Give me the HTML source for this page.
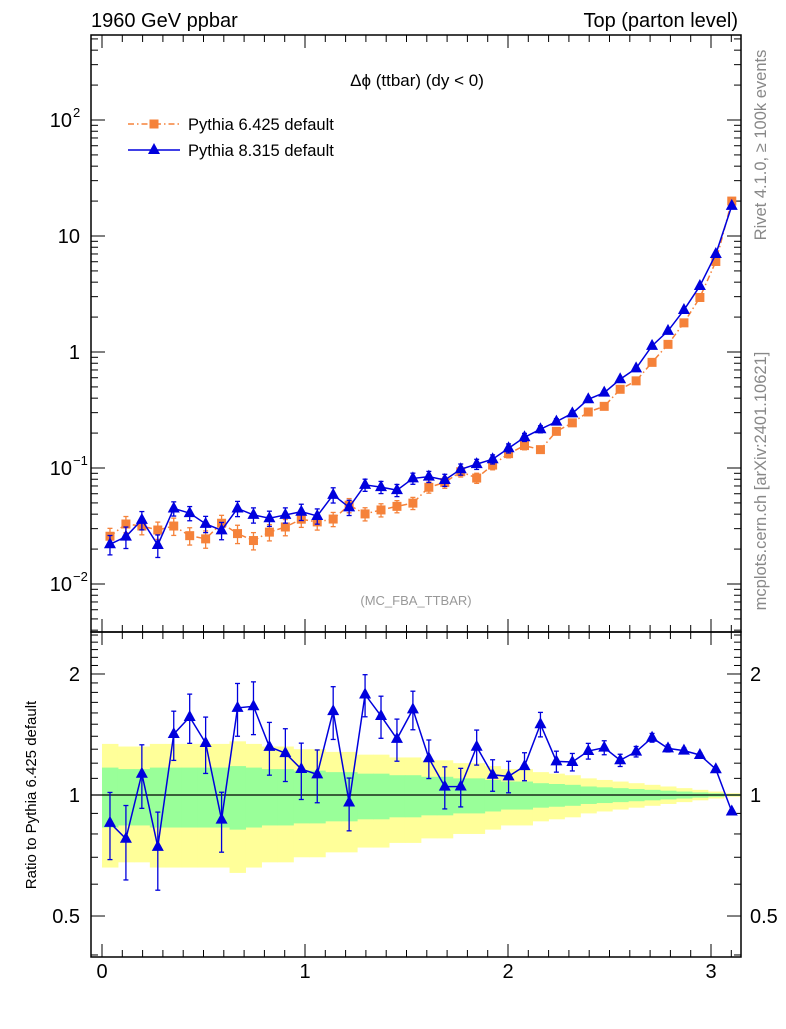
<!DOCTYPE html>
<html><head><meta charset="utf-8"><style>
body{margin:0;background:#fff;width:786px;height:1024px;overflow:hidden}
text{font-family:"Liberation Sans",sans-serif}
</style></head><body>
<svg id="c" width="786" height="1024" viewBox="0 0 786 1024" xmlns="http://www.w3.org/2000/svg">
<text x="91" y="27" font-size="20">1960 GeV ppbar</text>
<text x="738" y="27" font-size="20" text-anchor="end">Top (parton level)</text>
<text x="417" y="86" font-size="17" text-anchor="middle">Δϕ (ttbar) (dy &lt; 0)</text>
<text x="416" y="605" font-size="13" fill="#999" text-anchor="middle">(MC_FBA_TTBAR)</text>
<text transform="translate(766,145) rotate(-90)" font-size="16.5" fill="#888" text-anchor="middle">Rivet 4.1.0, ≥ 100k events</text>
<text transform="translate(766,481) rotate(-90)" font-size="16.5" fill="#888" text-anchor="middle">mcplots.cern.ch [arXiv:2401.10621]</text>
<text transform="translate(36,795) rotate(-90)" font-size="15" text-anchor="middle">Ratio to Pythia 6.425 default</text>
<g>
<g>
<line x1="128" y1="124" x2="180" y2="124" stroke="#f5823a" stroke-width="1.5" stroke-dasharray="6,3,1.5,3"/>
<rect x="149.5" y="119.5" width="9" height="9" fill="#f5823a"/>
<text x="188" y="130" font-size="16.5">Pythia 6.425 default</text></g>
<g>
<line x1="128" y1="150" x2="180" y2="150" stroke="#0000dd" stroke-width="1.5"/>
<polygon points="154,143 160,154 148,154" fill="#0000dd"/>
<text x="188" y="156" font-size="16.5">Pythia 8.315 default</text></g>
</g>
<g id="band"></g><g id="axes"></g><g id="marks"></g>
</svg>
<script>
const p8 = [0.0220,0.0256,0.0357,0.0217,0.0448,0.0408,0.0330,0.0290,0.0448,0.0394,0.0369,0.0394,0.0420,0.0386,0.0587,0.0458,0.0715,0.0684,0.0644,0.0813,0.0842,0.0788,0.0975,0.108,0.119,0.148,0.184,0.216,0.251,0.296,0.391,0.446,0.582,0.723,1.13,1.52,2.30,3.71,6.99,18.2];
const p6 = [0.0258,0.0329,0.0316,0.0292,0.0316,0.0261,0.0245,0.0334,0.0272,0.0237,0.0280,0.0310,0.0362,0.0343,0.0363,0.0478,0.0402,0.0435,0.0467,0.0498,0.0682,0.0751,0.0929,0.0819,0.106,0.133,0.156,0.144,0.207,0.245,0.304,0.340,0.477,0.564,0.814,1.164,1.784,2.95,6.03,20.0];
const p8Err = [0.19,0.21,0.18,0.22,0.14,0.14,0.16,0.17,0.15,0.15,0.15,0.15,0.16,0.15,0.15,0.15,0.12,0.12,0.12,0.11,0.11,0.12,0.11,0.10,0.09,0.09,0.08,0.07,0.06,0.05,0.045,0.04,0.035,0.03,0.025,0.02,0.015,0.012,0.01,0.006];
const p6Err = [0.17,0.16,0.16,0.17,0.17,0.17,0.17,0.17,0.18,0.17,0.16,0.16,0.15,0.15,0.14,0.14,0.13,0.13,0.12,0.12,0.11,0.11,0.10,0.10,0.09,0.08,0.08,0.07,0.065,0.06,0.05,0.045,0.04,0.035,0.03,0.025,0.02,0.015,0.01,0.005];
const xTicks = [0,1,2,3];
const mainTickLabels = [["10","2"],["10",""],["1",null],["10","−1"],["10","−2"]];
const ratioTicks = [0.5,1,2];

const NS="http://www.w3.org/2000/svg";
const L=91,R=741,T=35,MB=632,RB=957;
const N=p8.length, W=Math.PI/N;
const X=v=>102+203*v;
const Y=v=>352-116*Math.log10(v);
const YR=v=>795-402*Math.log10(v);
function mk(tag,attrs,parent){const e=document.createElementNS(NS,tag);for(const k in attrs)e.setAttribute(k,attrs[k]);parent.appendChild(e);return e;}
const axes=document.getElementById('axes'),marks=document.getElementById('marks'),band=document.getElementById('band');

for(let i=0;i<N;i++){
  const x0=X(i*W),x1=X((i+1)*W)+0.5;
  const y2=mk('rect',{x:x0,y:YR(1+2*p6Err[i]),width:x1-x0,height:YR(1-2*p6Err[i])-YR(1+2*p6Err[i]),fill:'#ffff99'},band);
  
  
}
for(let i=0;i<N;i++){
  const x0=X(i*W),x1=X((i+1)*W)+0.5;
  const g1=mk('rect',{x:x0,y:YR(1+p6Err[i]),width:x1-x0,height:YR(1-p6Err[i])-YR(1+p6Err[i]),fill:'#99ff99'},band);
  
  
}
mk('line',{x1:L,x2:R,y1:YR(1),y2:YR(1),stroke:'#000','stroke-width':1.2},band);

mk('rect',{x:L,y:T,width:R-L,height:MB-T,fill:'none',stroke:'#000','stroke-width':1.5},axes);
mk('rect',{x:L,y:MB,width:R-L,height:RB-MB,fill:'none',stroke:'#000','stroke-width':1.5},axes);
for(let k=0;k<=31;k++){const v=k/10,x=X(v);if(x<L||x>R)continue;const len=k%10==0?13:7;
  for(const [y0,d] of [[MB,-1],[RB,-1],[T,1],[MB,1]]) mk('line',{x1:x,x2:x,y1:y0,y2:y0+d*len,stroke:'#000'},axes);}
xTicks.forEach(v=>{const t=mk('text',{x:X(v),y:978,'font-size':20,'text-anchor':'middle'},axes);t.textContent=v;
  
  });
for(let d=-3;d<=2;d++)for(let m=1;m<=9;m++){const v=m*Math.pow(10,d),y=Y(v);if(y<T||y>MB)continue;const len=m==1?14:7;
  mk('line',{x1:L,x2:L+len,y1:y,y2:y,stroke:'#000'},axes);mk('line',{x1:R,x2:R-len,y1:y,y2:y,stroke:'#000'},axes);}
mainTickLabels.forEach((lab,i)=>{const y=Y(Math.pow(10,2-i))+7;const t=mk('text',{x:lab[1]?72:80,y:y,'font-size':20,'text-anchor':'end'},axes);t.textContent=lab[0];
  
  
  if(lab[1]){const s=mk('text',{x:73,y:y-10,'font-size':13},axes);s.textContent=lab[1];}});
[0.4,0.5,0.6,0.7,0.8,0.9,1,1.1,1.2,1.3,1.4,1.5,1.6,1.7,1.8,1.9,2,2.1,2.2,2.3,2.4,2.5].forEach(v=>{const y=YR(v);if(y<MB||y>RB)return;
  const len=[0.5,1,2].includes(v)?14:7;mk('line',{x1:L,x2:L+len,y1:y,y2:y,stroke:'#000'},axes);mk('line',{x1:R,x2:R-len,y1:y,y2:y,stroke:'#000'},axes);});
ratioTicks.forEach(v=>{for(const [x,a] of [[80,'end'],[750,'start']]){const t=mk('text',{x:x,y:YR(v)+7,'font-size':20,'text-anchor':a},axes);t.textContent=v;
  
  }});

const cx=i=>X((i+0.5)*W);
function errbar(x,y1,y2,col){mk('line',{x1:x,x2:x,y1:y1,y2:y2,stroke:col,'stroke-width':1.3},marks);
  mk('line',{x1:x-2.5,x2:x+2.5,y1:y1,y2:y1,stroke:col,'stroke-width':1.3},marks);mk('line',{x1:x-2.5,x2:x+2.5,y1:y2,y2:y2,stroke:col,'stroke-width':1.3},marks);}
const OR='#f5823a',BL='#0000dd';
const pl6=mk('polyline',{points:p6.map((v,i)=>cx(i)+','+Y(v)).join(' '),fill:'none',stroke:OR,'stroke-width':1.5,'stroke-dasharray':'6,3,1.5,3'},marks);


p6.forEach((v,i)=>{errbar(cx(i),Y(v*(1+p6Err[i])),Y(v*(1-p6Err[i])),OR);
  const r=mk('rect',{x:cx(i)-4.5,y:Y(v)-4.5,width:9,height:9,fill:OR},marks);
  
  });
const pl8=mk('polyline',{points:p8.map((v,i)=>cx(i)+','+Y(v)).join(' '),fill:'none',stroke:BL,'stroke-width':1.5},marks);


function tri(x,y,name){const t=mk('polygon',{points:`${x},${y-7} ${x+6},${y+4} ${x-6},${y+4}`,fill:BL},marks);
  
  }
p8.forEach((v,i)=>{errbar(cx(i),Y(v*(1+p8Err[i])),Y(v*(1-p8Err[i])),BL);tri(cx(i),Y(v),'pythia8-point');});
const ratio=p8.map((v,i)=>v/p6[i]);
const plr=mk('polyline',{points:ratio.map((v,i)=>cx(i)+','+YR(v)).join(' '),fill:'none',stroke:BL,'stroke-width':1.5},marks);


ratio.forEach((v,i)=>{errbar(cx(i),YR(v*(1+p8Err[i])),YR(Math.max(v*(1-p8Err[i]),0.3)),BL);tri(cx(i),YR(v),'ratio-point');});
</script>
</body></html>
